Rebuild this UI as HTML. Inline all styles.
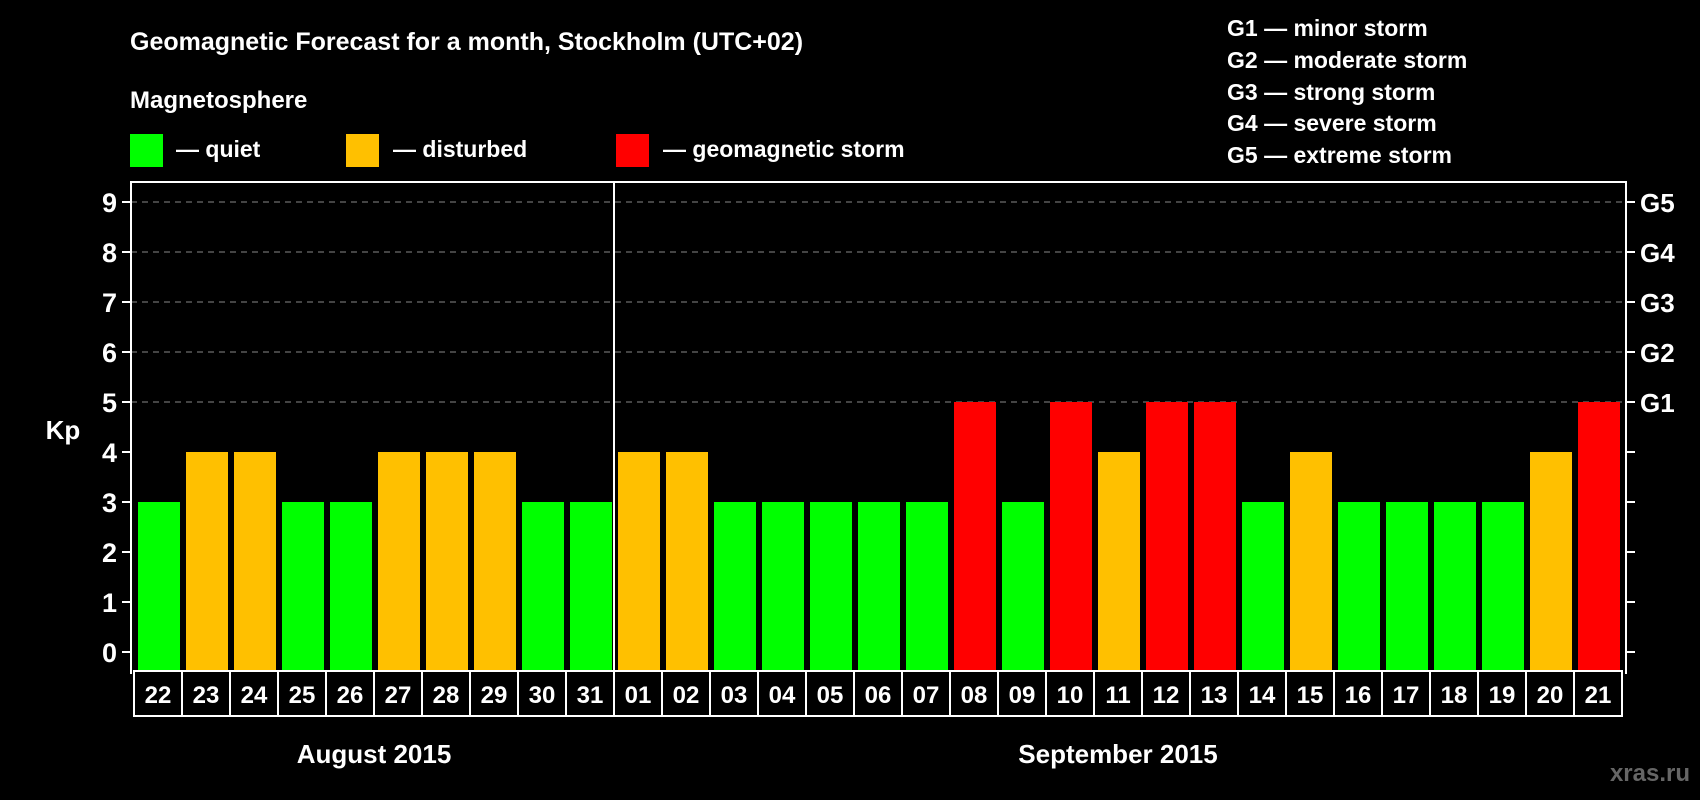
<!DOCTYPE html>
<html><head><meta charset="utf-8"><style>
html,body{margin:0;padding:0;background:#000;}
svg{display:block;font-family:"Liberation Sans",Arial,sans-serif;font-weight:bold;}
</style></head><body>
<svg id="chart" width="1700" height="800" viewBox="0 0 1700 800">
<rect x="0" y="0" width="1700" height="800" fill="#000"/>
<text x="130" y="50" fill="#fff" font-size="25">Geomagnetic Forecast for a month, Stockholm (UTC+02)</text>
<text x="130" y="108" fill="#fff" font-size="24">Magnetosphere</text>
<g>
<rect x="130" y="134" width="33" height="33" fill="#00ff00"/>
<text x="176" y="157" fill="#fff" font-size="23">— quiet</text>
<rect x="346" y="134" width="33" height="33" fill="#ffc000"/>
<text x="393" y="157" fill="#fff" font-size="23">— disturbed</text>
<rect x="616" y="134" width="33" height="33" fill="#ff0000"/>
<text x="663" y="157" fill="#fff" font-size="23">— geomagnetic storm</text>
</g>
<g fill="#fff" font-size="23">
<text x="1227" y="36">G1 — minor storm</text>
<text x="1227" y="68">G2 — moderate storm</text>
<text x="1227" y="100">G3 — strong storm</text>
<text x="1227" y="131">G4 — severe storm</text>
<text x="1227" y="163">G5 — extreme storm</text>
</g>
<text x="63" y="439" fill="#fff" font-size="26" text-anchor="middle">Kp</text>
<text x="1690" y="781" fill="#666" font-size="24" text-anchor="end">xras.ru</text>
<g id="plot"></g>
</svg>
<script>
const days = ["22","23","24","25","26","27","28","29","30","31","01","02","03","04","05","06","07","08","09","10","11","12","13","14","15","16","17","18","19","20","21"];
const kp = [3,4,4,3,3,4,4,4,3,3,4,4,3,3,3,3,3,5,3,5,4,5,5,3,4,3,3,3,3,4,5];
const yTicks = [0,1,2,3,4,5,6,7,8,9];
const gLabels = ["G1","G2","G3","G4","G5"];
const gLevels = [5,6,7,8,9];
const months = ["August 2015","September 2015"];
const monthSpans = [[0,10],[10,31]];

const NS="http://www.w3.org/2000/svg";
const g=document.getElementById('plot');
const L=131,R=1626,T=182,X0=134,SLOT=48,Y0=652,UNIT=50;
const y=v=>Y0-v*UNIT;
const x=i=>X0+i*SLOT;
function mk(tag,attrs,parent){const e=document.createElementNS(NS,tag);for(const k in attrs)e.setAttribute(k,attrs[k]);(parent||g).appendChild(e);return e;}
function color(v){return v>=5?"#ff0000":(v>=4?"#ffc000":"#00ff00");}

// gridlines
gLevels.forEach((lv,i)=>{
  const ln=mk('line',{x1:L,x2:R,y1:y(lv),y2:y(lv),stroke:"#888","stroke-width":1,"stroke-dasharray":"6,5"});
  
  
  const t=mk('text',{x:R+14,y:y(lv)+10,fill:"#fff","font-size":26});
  t.textContent=gLabels[i];
  
  
});
// bars
kp.forEach((v,i)=>{
  const b=mk('rect',{x:x(i)+4,y:y(v),width:SLOT-6,height:v*UNIT+20,fill:color(v)});
  
  
});
// y ticks
yTicks.forEach(v=>{
  const t1=mk('line',{x1:L-9,x2:L,y1:y(v),y2:y(v),stroke:"#fff","stroke-width":2});
  
  
  const t2=mk('line',{x1:R,x2:R+9,y1:y(v),y2:y(v),stroke:"#fff","stroke-width":2});
  
  
  const t=mk('text',{x:L-14,y:y(v)+10,fill:"#fff","font-size":27,"text-anchor":"end"});
  t.textContent=v;
  
  
});
// frame
const fr=mk('polyline',{points:`${L},674 ${L},${T} ${R},${T} ${R},674`,fill:"none",stroke:"#fff","stroke-width":2});


// month divider
const dv=mk('line',{x1:x(10),x2:x(10),y1:T,y2:672,stroke:"#fff","stroke-width":2});


// day label boxes
days.forEach((d,i)=>{
  const r=mk('rect',{x:x(i),y:671,width:SLOT,height:45,fill:"#000",stroke:"#fff","stroke-width":2});
  
  
  const t=mk('text',{x:x(i)+SLOT/2,y:703,fill:"#fff","font-size":24,"text-anchor":"middle"});
  t.textContent=d;
  
  
});
months.forEach((m,i)=>{
  const cx=(x(monthSpans[i][0])+x(monthSpans[i][1]))/2;
  const t=mk('text',{x:cx,y:763,fill:"#fff","font-size":26,"text-anchor":"middle"});
  t.textContent=m;
  
  
});
</script>
</body></html>
